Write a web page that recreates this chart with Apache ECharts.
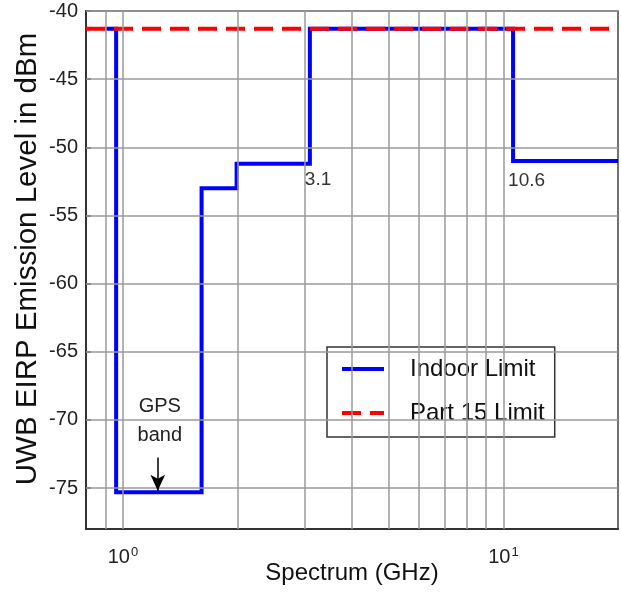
<!DOCTYPE html>
<html>
<head>
<meta charset="utf-8">
<script src="https://cdn.jsdelivr.net/npm/echarts@6/dist/echarts.min.js"></script>
<style>html,body{margin:0;padding:0;background:#fff;}#c{width:621px;height:592px;}</style>
</head>
<body>
<div id="c"></div>
<script>
// ---- data ----
var indoorFreq  = [0.9, 0.96, 1.61, 1.99, 3.1, 10.6, 20];
var indoorLevel = [-41.3, -75.3, -53.0, -51.2, -41.3, -51.0, -51.0];
var part15Freq  = [0.8, 20];
var part15Level = [-41.3, -41.3];
var xGridValues = [0.9, 1, 2, 3, 4, 5, 6, 7, 8, 9, 10];
var yTickValues = [-75, -70, -65, -60, -55, -50, -45, -40];
var xLabelValues = [1, 10];
var bandEdgeLabels = [{f: 3.1, y: -52.35, t: '3.1'}, {f: 10.6, y: -52.45, t: '10.6'}];
var gpsLabel = {f: 1.25, y: -70.1, t: 'GPS\nband'};
var gpsArrow = {f: 1.235, from: -72.75, to: -75.2};

var FONT = 'Liberation Sans, Arial, sans-serif';
function pairs(xs, ys) { return xs.map(function (x, i) { return [x, ys[i]]; }); }

var chart = echarts.init(document.getElementById('c'), null, {renderer: 'canvas'});
chart.setOption({
  animation: false,
  backgroundColor: '#fff',
  textStyle: {fontFamily: FONT},
  grid: {left: 86, right: 3, top: 11, bottom: 63, show: true, borderColor: '#444', borderWidth: 1.5, containLabel: false, outerBoundsMode: 'none'},
  xAxis: {
    type: 'log', logBase: 10, min: 0.8, max: 20,
    name: 'Spectrum (GHz)', nameLocation: 'middle', nameGap: 32, nameMoveOverlap: false,
    nameTextStyle: {fontSize: 24, color: '#111', fontFamily: FONT},
    axisLine: {show: true, lineStyle: {color: '#333', width: 2}},
    axisTick: {show: false},
    splitLine: {show: false},
    minorSplitLine: {show: false},
    axisLabel: {
      customValues: xLabelValues, margin: 17, color: '#222', fontSize: 20, fontFamily: FONT,
      formatter: function (v) { return '10{s|' + Math.round(Math.log10(v)) + '}'; },
      rich: {s: {fontSize: 13, verticalAlign: 'top', padding: [0, 0, 10, 1], fontFamily: FONT, color: '#222'}}
    }
  },
  yAxis: {
    type: 'value', min: -78, max: -40,
    name: 'UWB EIRP Emission Level in dBm', nameLocation: 'middle', nameGap: 43, nameRotate: 90, nameMoveOverlap: false,
    nameTextStyle: {fontSize: 29.5, color: '#111', fontFamily: FONT, padding: [0, 0, 0, 22]},
    axisLine: {show: true, lineStyle: {color: '#333', width: 2}},
    axisTick: {show: true, inside: true, length: 5, customValues: yTickValues, lineStyle: {color: '#333', width: 1.5}},
    splitLine: {show: false},
    axisLabel: {customValues: yTickValues, margin: 8, color: '#222', fontSize: 20, fontFamily: FONT}
  },
  legend: {
    data: ['Indoor Limit', 'Part 15 Limit'],
    orient: 'vertical', left: 327, top: 347,
    padding: [10, 10, 12, 13],
    itemWidth: 42, itemHeight: 14, itemGap: 20,
    itemStyle: {opacity: 0, borderWidth: 0},
    lineStyle: {width: 4, opacity: 1},
    backgroundColor: '#fff', borderColor: '#333', borderWidth: 1.5, borderRadius: 0,
    textStyle: {fontSize: 24, color: '#111', fontFamily: FONT, padding: [0, 0, 0, 21], lineHeight: 24}
  },
  series: [
    {
      name: 'grid', type: 'line', data: [], z: 1, silent: true,
      markLine: {
        silent: true, symbol: ['none', 'none'], label: {show: false},
        lineStyle: {color: '#9a9a9a', width: 1.5, type: 'solid'},
        data: xGridValues.map(function (v) { return {xAxis: v}; })
          .concat(yTickValues.map(function (v) { return {yAxis: v}; }))
      }
    },
    {
      name: 'Indoor Limit', type: 'line', step: 'end', z: 3,
      data: pairs(indoorFreq, indoorLevel),
      symbol: 'none', showSymbol: false,
      lineStyle: {color: '#0000ff', width: 4, join: 'miter', cap: 'butt'},
      itemStyle: {color: '#0000ff'},
      markPoint: {
        silent: true, symbol: 'circle', symbolSize: 0,
        data: bandEdgeLabels.map(function (b) {
          return {name: b.t, coord: [b.f, b.y], label: {show: true, formatter: '{b}', position: 'right', distance: 0, offset: [-5, 0], fontSize: 19, color: '#333', fontFamily: FONT}};
        }).concat([{name: gpsLabel.t, coord: [gpsLabel.f, gpsLabel.y], label: {show: true, formatter: '{b}', position: 'inside', fontSize: 20, lineHeight: 29, color: '#222', fontFamily: FONT, align: 'center'}}])
      },
      markLine: {
        silent: true, symbol: ['none', 'arrow'], symbolSize: [11, 16],
        label: {show: false},
        lineStyle: {color: '#000', width: 1.5, type: 'solid'},
        data: [[{coord: [gpsArrow.f, gpsArrow.from]}, {coord: [gpsArrow.f, gpsArrow.to]}]]
      }
    },
    {
      name: 'Part 15 Limit', type: 'line', z: 4,
      data: pairs(part15Freq, part15Level),
      symbol: 'none', showSymbol: false,
      lineStyle: {color: '#ff0000', width: 4, type: [19, 9], cap: 'butt'},
      itemStyle: {color: '#ff0000'}
    }
  ]
});
</script>
</body>
</html>
